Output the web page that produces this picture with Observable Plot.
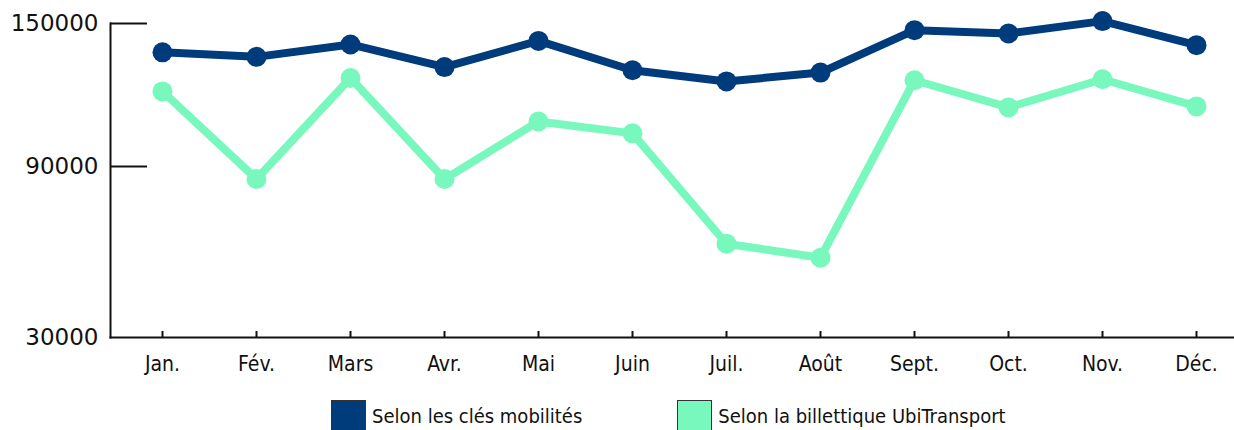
<!DOCTYPE html>
<html>
<head>
<meta charset="utf-8">
<script src="https://cdn.jsdelivr.net/npm/d3@7"></script>
<script src="https://cdn.jsdelivr.net/npm/@observablehq/plot@0.6"></script>
<style>
  body { margin: 0; background: #fff; }
  #chart svg { display: block; }
  #legend { display: flex; align-items: flex-start; padding-left: 331px; margin-top: 8px;
    font-family: "DejaVu Sans Condensed", "Liberation Sans Narrow", sans-serif; font-size: 20px; color: #111; }
  .item { display: flex; align-items: flex-start; }
  .sw { width: 35px; height: 32px; border: 1px solid #333; box-sizing: border-box; margin-right: 6px; }
  .lab { line-height: 30px; margin-top: 1px; }
</style>
</head>
<body>
<div id="chart"></div>
<div id="legend"></div>
<script>
const months = ["Jan.", "Fév.", "Mars", "Avr.", "Mai", "Juin", "Juil.", "Août", "Sept.", "Oct.", "Nov.", "Déc."];
const clesMobilites = [137900, 136000, 141200, 131700, 142700, 130400, 125700, 129400, 147200, 145800, 151000, 140900];
const billettique = [121500, 85600, 127100, 85600, 108900, 103900, 62900, 58000, 126200, 114800, 126600, 115200];
const seriesNames = ["Selon les clés mobilités", "Selon la billettique UbiTransport"];
const seriesColors = ["#003b7c", "#79f8bd"];
const yLabelTicks = [30000, 90000, 150000];
const yTickMarks = [90000, 150000];

const rows = [];
months.forEach((m, i) => {
  rows.push({month: m, value: clesMobilites[i], serie: seriesNames[0]});
  rows.push({month: m, value: billettique[i], serie: seriesNames[1]});
});

const chart = Plot.plot({
  width: 1234,
  height: 392,
  marginTop: 23,
  marginBottom: 55,
  marginLeft: 110,
  marginRight: 0,
  style: {background: "white", color: "#111"},
  x: {type: "point", domain: months, range: [162, 1196], padding: 0, label: null},
  y: {type: "linear", domain: [30000, 90000, 150000], range: [337, 166, 23], label: null},
  color: {domain: seriesNames, range: seriesColors},
  marks: [
    Plot.frame({anchor: "left", strokeWidth: 2, stroke: "#111"}),
    Plot.frame({anchor: "bottom", strokeWidth: 2, stroke: "#111"}),
    Plot.axisY(yTickMarks, {tickSize: -37, tickFormat: () => "", strokeWidth: 2, label: null}),
    Plot.axisY(yLabelTicks, {tickSize: 0, tickPadding: 12, tickFormat: d => String(d), fontSize: 23, fontFamily: "DejaVu Sans", label: null}),
    Plot.axisX(months, {tickSize: -6, tickPadding: 25, strokeWidth: 2, fontSize: 21, fontFamily: "DejaVu Sans Condensed, Liberation Sans Narrow, sans-serif", label: null}),
    Plot.line(rows, {x: "month", y: "value", z: "serie", stroke: "serie", strokeWidth: 8}),
    Plot.dot(rows, {x: "month", y: "value", fill: "serie", r: 10})
  ]
});
document.getElementById("chart").appendChild(chart);

const legend = document.getElementById("legend");
seriesNames.forEach((name, i) => {
  const item = document.createElement("div");
  item.className = "item";
  if (i > 0) item.style.marginLeft = "95px";
  const sw = document.createElement("div");
  sw.className = "sw";
  sw.style.background = seriesColors[i];
  const lab = document.createElement("div");
  lab.className = "lab";
  lab.textContent = name;
  item.appendChild(sw);
  item.appendChild(lab);
  legend.appendChild(item);
});
</script>
</body>
</html>
